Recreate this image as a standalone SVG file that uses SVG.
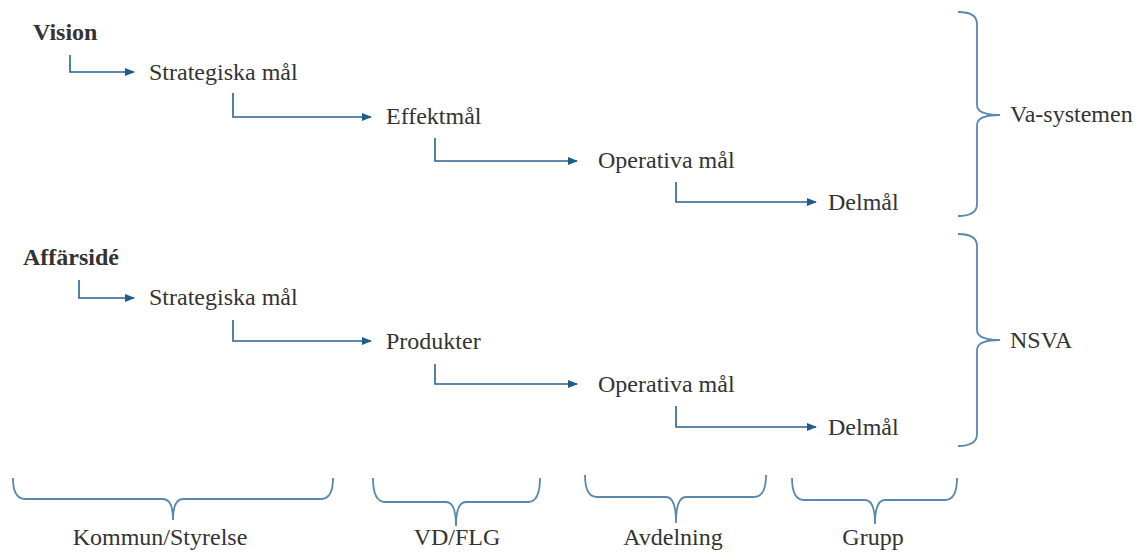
<svg xmlns="http://www.w3.org/2000/svg" width="1146" height="554" viewBox="0 0 1146 554">
<style>
text{font-family:"Liberation Serif","Times New Roman",serif;font-size:24px;fill:#333}
.b{font-weight:bold}
.c{fill:none;stroke:#2a6090;stroke-width:1.6}
.br{fill:none;stroke:#5a87ad;stroke-width:1.8}
</style>
<defs>
<marker id="ah" markerWidth="10" markerHeight="10" refX="9" refY="5" orient="auto" markerUnits="userSpaceOnUse">
<path d="M0,1 L10,5 L0,9 Z" fill="#1f5c8b"/>
</marker>
</defs>
<rect width="1146" height="554" fill="#fff"/>
<g id="connectors">
<path class="c" d="M70,55 V72 H134" marker-end="url(#ah)"/>
<path class="c" d="M233,93 V117 H371" marker-end="url(#ah)"/>
<path class="c" d="M435,138 V161 H577" marker-end="url(#ah)"/>
<path class="c" d="M676,182 V202 H816" marker-end="url(#ah)"/>
<path class="c" d="M79,280 V298 H134" marker-end="url(#ah)"/>
<path class="c" d="M233,320 V341 H371" marker-end="url(#ah)"/>
<path class="c" d="M435,364 V384 H577" marker-end="url(#ah)"/>
<path class="c" d="M676,406 V427 H816" marker-end="url(#ah)"/>
</g>
<g id="vision"><text class="b" x="33" y="40">Vision</text></g>
<g id="strategiska1"><text x="149" y="80">Strategiska mål</text></g>
<g id="effektmal"><text x="386" y="124">Effektmål</text></g>
<g id="operativa1"><text x="598" y="168">Operativa mål</text></g>
<g id="delmal1"><text x="828" y="210">Delmål</text></g>
<g id="affarside"><text class="b" x="23" y="265">Affärsidé</text></g>
<g id="strategiska2"><text x="149" y="305">Strategiska mål</text></g>
<g id="produkter"><text x="386" y="349">Produkter</text></g>
<g id="operativa2"><text x="598" y="392">Operativa mål</text></g>
<g id="delmal2"><text x="828" y="435">Delmål</text></g>
<g id="va-systemen">
<path class="br" d="M958,12 Q977,12 977,24 V105 Q977,115 1000,115 Q977,115 977,125 V204 Q977,216 958,216"/>
<text x="1010" y="122">Va-systemen</text>
</g>
<g id="nsva">
<path class="br" d="M958,234 Q977,234 977,246 V330 Q977,340 1000,340 Q977,340 977,350 V434 Q977,446 958,446"/>
<text x="1010" y="348">NSVA</text>
</g>
<g id="kommun">
<path class="br" d="M13,478 Q13,499 25,499 H163 Q173,499 173,520 Q173,499 183,499 H321 Q333,499 333,478"/>
<text x="160" y="545" text-anchor="middle">Kommun/Styrelse</text>
</g>
<g id="vdflg">
<path class="br" d="M373,478 Q373,502 385,502 H446 Q456,502 456,526 Q456,502 466,502 H528 Q540,502 540,478"/>
<text x="457" y="545" text-anchor="middle">VD/FLG</text>
</g>
<g id="avdelning">
<path class="br" d="M585,475 Q585,497 597,497 H666 Q676,497 676,523 Q676,497 686,497 H754 Q766,497 766,475"/>
<text x="673" y="545" text-anchor="middle">Avdelning</text>
</g>
<g id="grupp">
<path class="br" d="M792,478 Q792,500 804,500 H865 Q875,500 875,524 Q875,500 885,500 H945 Q957,500 957,478"/>
<text x="873" y="545" text-anchor="middle">Grupp</text>
</g>
</svg>
